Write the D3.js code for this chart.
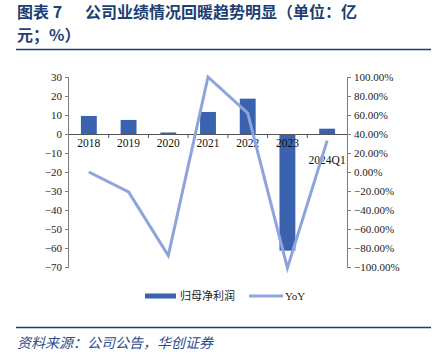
<!DOCTYPE html>
<html><head><meta charset="utf-8">
<script src="https://cdn.jsdelivr.net/npm/d3@7/dist/d3.min.js"></script>
<style>
body{margin:0;background:#fff;}
svg{display:block;}
</style></head>
<body><svg id="c" width="437" height="358"></svg>
<script>
const categories = ["2018","2019","2020","2021","2022","2023","2024Q1"];
const profit = [9.5, 7.4, 0.8, 11.6, 18.6, -61.4, 2.8];
const yoy = [0, -21, -88, 100, 62, -101, 33];
const leftTicks = [30,20,10,0,-10,-20,-30,-40,-50,-60,-70];
const rightTicks = [100,80,60,40,20,0,-20,-40,-60,-80,-100];

const svg = d3.select("#c");
const serif = "'Liberation Serif','DejaVu Serif',serif";
const cjk = "'Noto Sans CJK SC',sans-serif";
const navy = "#1d3f73";
const barColor = "#3a62ae";
const lineColor = "#8fa3dc";

// title
const title = svg.append("g").attr("font-family", cjk).attr("font-weight", "bold").attr("font-size", 16).attr("fill", navy);
title.append("text").attr("x", 17).attr("y", 18).text("图表 7");
title.append("text").attr("x", 85).attr("y", 18).text("公司业绩情况回暖趋势明显（单位：亿");
title.append("text").attr("x", 17).attr("y", 41).text("元；%）");
svg.append("line").attr("x1", 16).attr("x2", 431).attr("y1", 49.5).attr("y2", 49.5).attr("stroke", navy).attr("stroke-width", 1.5);

const x0 = 69, x1 = 347;
const yL = d3.scaleLinear().domain([-70, 30]).range([267, 77]);
const yR = d3.scaleLinear().domain([-100, 100]).range([267, 77]);
const xb = d3.scaleBand().domain(categories).range([x0, x1]).paddingInner(0.6).paddingOuter(0.3);
const xc = d3.scalePoint().domain(categories).range([x0, x1]).padding(0.5);

// left axis
const axL = svg.append("g").attr("transform", `translate(${x0},0)`)
  .call(d3.axisLeft(yL).tickValues(leftTicks).tickSize(4).tickPadding(3).tickFormat(d3.format("d")));
axL.select(".domain").attr("stroke", "#7f7f7f").attr("d", `M-0.5,${yL(30)}V${yL(-70)}`);
axL.selectAll(".tick line").attr("stroke", "#7f7f7f");
axL.selectAll("text").attr("font-family", serif).attr("font-size", 11).attr("fill", "#222");

// right axis
const axR = svg.append("g").attr("transform", `translate(${x1},0)`)
  .call(d3.axisRight(yR).tickValues(rightTicks).tickSize(4).tickPadding(3).tickFormat(d => d3.format(".2f")(d) + "%"));
axR.select(".domain").attr("stroke", "#7f7f7f").attr("d", `M0.5,${yR(100)}V${yR(-100)}`);
axR.selectAll(".tick line").attr("stroke", "#7f7f7f");
axR.selectAll("text").attr("font-family", serif).attr("font-size", 11).attr("fill", "#222");

// bars
svg.append("g").selectAll("rect").data(categories).join("rect")
  .attr("x", d => xb(d))
  .attr("width", xb.bandwidth())
  .attr("y", (d, i) => Math.min(yL(profit[i]), yL(0)))
  .attr("height", (d, i) => Math.abs(yL(profit[i]) - yL(0)))
  .attr("fill", barColor);

// category axis at zero
const step = (x1 - x0) / categories.length;
const axX = svg.append("g").attr("transform", `translate(0,${yL(0)})`);
axX.append("line").attr("x1", x0).attr("x2", x1).attr("y1", 0.5).attr("y2", 0.5).attr("stroke", "#555");
axX.selectAll("line.tk").data(d3.range(1, categories.length)).join("line").attr("class", "tk")
  .attr("x1", i => x0 + i * step).attr("x2", i => x0 + i * step).attr("y1", 0).attr("y2", 4).attr("stroke", "#555");
axX.selectAll("text").data(categories).join("text")
  .attr("x", d => xc(d)).attr("y", (d, i) => i === categories.length - 1 ? 30 : 13)
  .attr("text-anchor", "middle").attr("font-family", serif).attr("font-size", 11.5).attr("fill", "#111")
  .text(d => d);

// line
svg.append("path").datum(yoy)
  .attr("fill", "none").attr("stroke", lineColor).attr("stroke-width", 3).attr("stroke-linejoin", "miter")
  .attr("d", d3.line().x((d, i) => xc(categories[i])).y(d => yR(d)));

// legend
const lg = svg.append("g");
lg.append("rect").attr("x", 145).attr("y", 293.5).attr("width", 31).attr("height", 5).attr("fill", barColor);
lg.append("text").attr("x", 180).attr("y", 300).attr("font-family", cjk).attr("font-size", 11).attr("fill", "#222").text("归母净利润");
lg.append("line").attr("x1", 249).attr("x2", 283).attr("y1", 296).attr("y2", 296).attr("stroke", lineColor).attr("stroke-width", 3);
lg.append("text").attr("x", 285).attr("y", 300).attr("font-family", serif).attr("font-size", 11).attr("fill", "#222").text("YoY");

// source
svg.append("line").attr("x1", 16).attr("x2", 431).attr("y1", 327.5).attr("y2", 327.5).attr("stroke", navy).attr("stroke-width", 1.5);
svg.append("text").attr("x", 17).attr("y", 348).attr("font-family", cjk).attr("font-style", "italic").attr("font-size", 14).attr("fill", "#2a4d8f")
  .text("资料来源：公司公告，华创证券");
</script></body></html>
